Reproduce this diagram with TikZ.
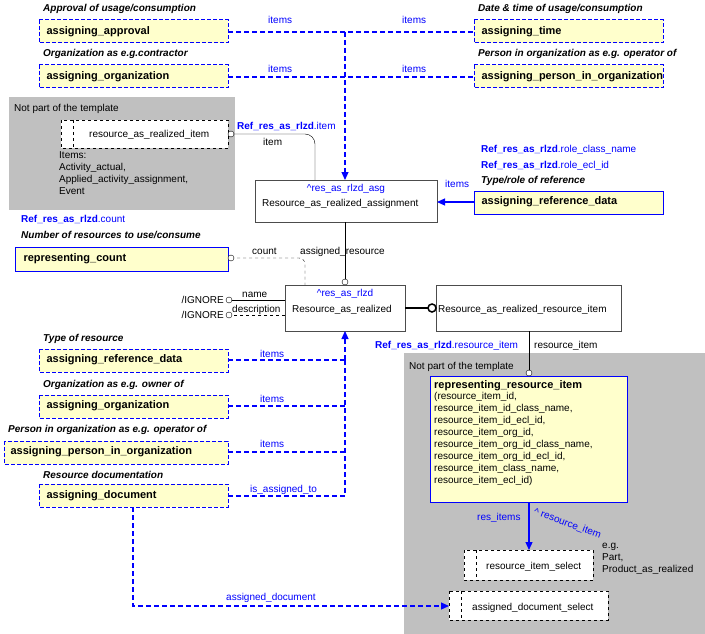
\documentclass[tikz,border=0pt]{standalone}
\usepackage{fontspec}
\setmainfont{Liberation Sans}
\usetikzlibrary{arrows.meta}
\definecolor{ylw}{RGB}{255,255,204}
\definecolor{bl}{RGB}{0,0,255}
\definecolor{gr}{RGB}{192,192,192}
\begin{document}
\begin{tikzpicture}[x=1pt,y=-1pt,font=\fontsize{10}{12}\selectfont,
 tb/.style={draw=bl,dashed,line width=1pt,fill=ylw,dash pattern=on 4pt off 2pt},
 sb/.style={draw=bl,line width=1pt,fill=ylw},
 wb/.style={draw=black!70,fill=white},
 db/.style={draw=black,dashed,fill=white},
 bdl/.style={draw=bl,line width=1.2pt,dash pattern=on 5pt off 3pt},
 lab/.style={anchor=base west,inner sep=0},
 blab/.style={lab,text=bl},
 capt/.style={lab,font=\fontsize{10}{12}\selectfont\bfseries\itshape},
 circ/.style={circle,draw,fill=white,inner sep=0,minimum size=6pt},
 bt/.style={font=\fontsize{11}{13}\selectfont\bfseries}]
\useasboundingbox (0,0) rectangle (705,634);
% gray areas
\fill[gr] (9,97) rectangle (235,210);
\fill[gr] (404,353) rectangle (705,634);
\node[lab] at (14,111) {Not part of the template};
\node[lab] at (409,369) {Not part of the template};
% top boxes
\node[capt] at (43,12) {Approval of usage/consumption};
\path[tb] (39,20) rectangle (228,43); \node[bt,anchor=west] (aa) at (43,32) {assigning\_approval};
\node[capt] at (43,57) {Organization as e.g.contractor};
\path[tb] (39,65) rectangle (228,88); \node[bt,anchor=west] (ao) at (43,77) {assigning\_organization};
\node[capt] at (478,12) {Date \& time of usage/consumption};
\path[tb] (474,20) rectangle (663,43); \node[bt,anchor=west] (at) at (478,32) {assigning\_time};
\node[capt] at (478,57) {Person in organization as e.g. operator of};
\path[tb] (474,65) rectangle (663,88); \node[bt,anchor=west] (ap) at (478,77) {assigning\_person\_in\_organization};
\coordinate (j1) at (345,32);
\draw[bdl] (228,32) -- (474,32);
\draw[bdl] (228,77) -- (474,77);
\draw[bdl,-{Triangle[length=8pt,width=7pt]}] (j1) -- (345,180);
\node[blab] at (268,24) {items}; \node[blab] at (402,24) {items};
\node[blab] at (268,73) {items}; \node[blab] at (402,73) {items};
% resource_as_realized_item
\path[db] (61,120) rectangle (228,148); \draw[dashed] (73,120) -- (73,148);
\node[lab] at (89,137) {resource\_as\_realized\_item};
\node[lab,align=left,anchor=north west] at (59,151) {Items:\\Activity\_actual,\\Applied\_activity\_assignment,\\Event};
% assignment
\path[wb] (255,180) rectangle (437,222);
\node[blab,anchor=base] at (346,191) {\textasciicircum res\_as\_rlzd\_asg};
\node[lab] at (262,206) {Resource\_as\_realized\_assignment};
\draw[rounded corners=10pt] (315,180) -- (315,134) -- (231,134);
\node[circ] at (231,134) {};
\node[blab] at (237,130) {\textbf{Ref\_res\_as\_rlzd}.item};
\node[lab] at (263,146) {item};
% reference data right
\node[blab] at (481,152) {\textbf{Ref\_res\_as\_rlzd}.role\_class\_name};
\node[blab] at (481,168) {\textbf{Ref\_res\_as\_rlzd}.role\_ecl\_id};
\node[capt] at (481,183) {Type/role of reference};
\path[sb] (474,191) rectangle (663,214); \node[bt,anchor=west] at (478,202) {assigning\_reference\_data};
\draw[bl,line width=1.2pt,-{Triangle[length=8pt,width=7pt]}] (474,202) -- (437,202);
\node[blab] at (445,187) {items};
% count
\node[blab] at (21,222) {\textbf{Ref\_res\_as\_rlzd}.count};
\node[capt] at (21,238) {Number of resources to use/consume};
\path[sb] (15,247) rectangle (228,271); \node[bt,anchor=west] at (20,259) {representing\_count};
\draw[dashed,rounded corners=6pt] (231,258) -- (305,258) -- (305,285);
\node[circ] at (231,258) {};
\node[lab] at (252,254) {count};
\draw (345,222) -- (345,282);
\node[circ] at (345,282) {};
\node[lab] at (300,254) {assigned\_resource};
% resource as realized
\path[wb] (285,285) rectangle (405,331);
\node[blab,anchor=base] at (345,296) {\textasciicircum res\_as\_rlzd};
\node[lab] at (292,312) {Resource\_as\_realized};
\draw (285,300) -- (229,300); \node[circ] at (229,300) {};
\draw[dashed] (285,315) -- (229,315); \node[circ] at (229,315) {};
\node[lab] at (242,297) {name}; \node[lab] at (232,312) {description};
\node[lab,anchor=base east] at (224,303) {/IGNORE};
\node[lab,anchor=base east] at (224,318) {/IGNORE};
\path[wb] (436,285) rectangle (621,331);
\node[lab] at (438,312) {Resource\_as\_realized\_resource\_item};
\draw[line width=2pt] (405,308) -- (428,308);
\node[circ,line width=1.5pt,minimum size=8pt] at (432,308) {};
\draw (529,331) -- (529,373);
\node[blab] at (375,348) {\textbf{Ref\_res\_as\_rlzd}.resource\_item};
\node[lab] at (534,348) {resource\_item};
% representing resource item
\path[sb] (430,376) rectangle (627,502);
\node[circ] at (529,373) {};
\node[lab,align=left,anchor=north west] at (434,380) {{\bfseries\fontsize{11}{13}\selectfont representing\_resource\_item}\\[-1pt](resource\_item\_id,\\resource\_item\_id\_class\_name,\\resource\_item\_id\_ecl\_id,\\resource\_item\_org\_id,\\resource\_item\_org\_id\_class\_name,\\resource\_item\_org\_id\_ecl\_id,\\resource\_item\_class\_name,\\resource\_item\_ecl\_id)};
\path[db] (464,550) rectangle (593,580); \draw[dashed] (476,550) -- (476,580);
\node[lab] at (486,569) {resource\_item\_select};
\draw[bl,line width=1.2pt,-{Triangle[length=8pt,width=7pt]}] (529,502) -- (529,550);
\node[blab] at (477,520) {res\_items};
\node[blab,rotate=-20] at (533,514) {\textasciicircum\ resource\_item};
\node[lab,align=left,anchor=north west] at (602,543) {e.g.\\Part,\\Product\_as\_realized};
\path[db] (449,591) rectangle (608,620); \draw[dashed] (461,591) -- (461,620);
\node[lab] at (472,610) {assigned\_document\_select};
% bottom left
\node[capt] at (43,341) {Type of resource};
\path[tb] (39,349) rectangle (228,372); \node[bt,anchor=west] at (43,360) {assigning\_reference\_data};
\node[capt] at (43,387) {Organization as e.g. owner of};
\path[tb] (39,395) rectangle (228,418); \node[bt,anchor=west] at (43,406) {assigning\_organization};
\node[capt] at (8,432) {Person in organization as e.g. operator of};
\path[tb] (4,441) rectangle (228,464); \node[bt,anchor=west] at (7,452) {assigning\_person\_in\_organization};
\node[capt] at (43,478) {Resource documentation};
\path[tb] (39,484) rectangle (228,507); \node[bt,anchor=west] at (43,496) {assigning\_document};
\draw[bdl] (228,360) -- (345,360);
\draw[bdl] (228,406) -- (345,406);
\draw[bdl] (228,452) -- (345,452);
\draw[bdl] (228,496) -- (345,496) -- (345,360);
\draw[bdl,-{Triangle[length=8pt,width=7pt]}] (345,360) -- (345,331);
\node[blab] at (260,357) {items}; \node[blab] at (260,402) {items}; \node[blab] at (260,447) {items};
\node[blab] at (250,492) {is\_assigned\_to};
\draw[bdl,-{Triangle[length=8pt,width=7pt]}] (133,507) -- (133,606) -- (449,606);
\node[blab] at (226,600) {assigned\_document};
\end{tikzpicture}
\end{document}
